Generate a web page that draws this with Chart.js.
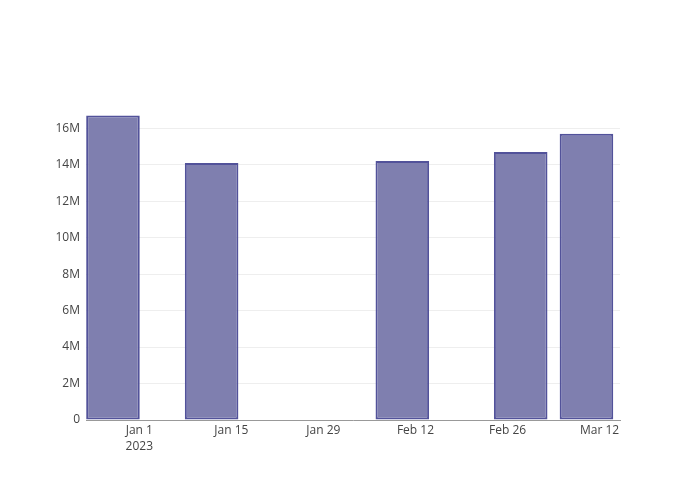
<!DOCTYPE html>
<html>
<head>
<meta charset="utf-8">
<script src="https://cdn.jsdelivr.net/npm/chart.js@4"></script>
<style>
  body { margin: 0; background: #fff; }
</style>
</head>
<body>
<canvas id="miGrafico" width="700" height="500"></canvas>
<script>
// datos
const fechas = ['2022-12-28', '2023-01-12', '2023-02-10', '2023-02-28', '2023-03-10'];
const valores = [16.7e6, 14.1e6, 14.2e6, 14.7e6, 15.7e6];

const tickFechas = ['2023-01-01', '2023-01-15', '2023-01-29', '2023-02-12', '2023-02-26', '2023-03-12'];
const tickLabels = [['Jan 1', '2023'], 'Jan 15', 'Jan 29', 'Feb 12', 'Feb 26', 'Mar 12'];

const yTicks = [0, 2e6, 4e6, 6e6, 8e6, 10e6, 12e6, 14e6, 16e6];

// dias desde el 1 de enero 2023
const base = Date.UTC(2023, 0, 1);
const dia = (s) => {
    const p = s.split('-');
    return (Date.UTC(+p[0], +p[1] - 1, +p[2]) - base) / 86400000;
};

const puntos = fechas.map((f, i) => ({ x: dia(f), y: valores[i] }));
const tickDias = tickFechas.map(dia);

Chart.defaults.font.family = '"Open Sans", verdana, arial, sans-serif';
Chart.defaults.font.size = 12;
Chart.defaults.color = '#444';

var ctx = document.getElementById('miGrafico').getContext('2d');
var myChart = new Chart(ctx, {
    type: 'bar',
    data: {
        datasets: [{
            data: puntos,
            backgroundColor: '#7f7faf',
            borderColor: '#52529a',
            borderWidth: 2,
            borderSkipped: false,
            categoryPercentage: 0.815,
            barPercentage: 1.0
        }]
    },
    options: {
        responsive: false,
        animation: false,
        layout: {
            padding: { left: 0, right: 80, top: 100, bottom: 0 }
        },
        plugins: {
            legend: { display: false },
            tooltip: { enabled: false }
        },
        scales: {
            x: {
                type: 'linear',
                offset: false,
                min: -8.1,
                max: 73.1,
                grid: { display: false, drawTicks: false },
                border: { display: true, color: '#999', width: 1 },
                afterBuildTicks: (scale) => {
                    scale.ticks = tickDias.map(v => ({ value: v }));
                },
                afterFit: (scale) => { scale.height = 80; },
                ticks: {
                    padding: 3,
                    maxRotation: 0,
                    autoSkip: false,
                    font: { lineHeight: 1.3 },
                    callback: (v) => {
                        const i = tickDias.indexOf(v);
                        return i >= 0 ? tickLabels[i] : '';
                    }
                }
            },
            y: {
                min: 0,
                max: 17.55e6,
                grid: { color: '#eee', lineWidth: 1, drawTicks: false },
                border: { display: false },
                afterBuildTicks: (scale) => {
                    scale.ticks = yTicks.map(v => ({ value: v }));
                },
                afterFit: (scale) => { scale.width = 86; },
                ticks: {
                    padding: 6,
                    callback: (v) => v === 0 ? '0' : (v / 1e6) + 'M'
                }
            }
        }
    }
});
</script>
</body>
</html>
